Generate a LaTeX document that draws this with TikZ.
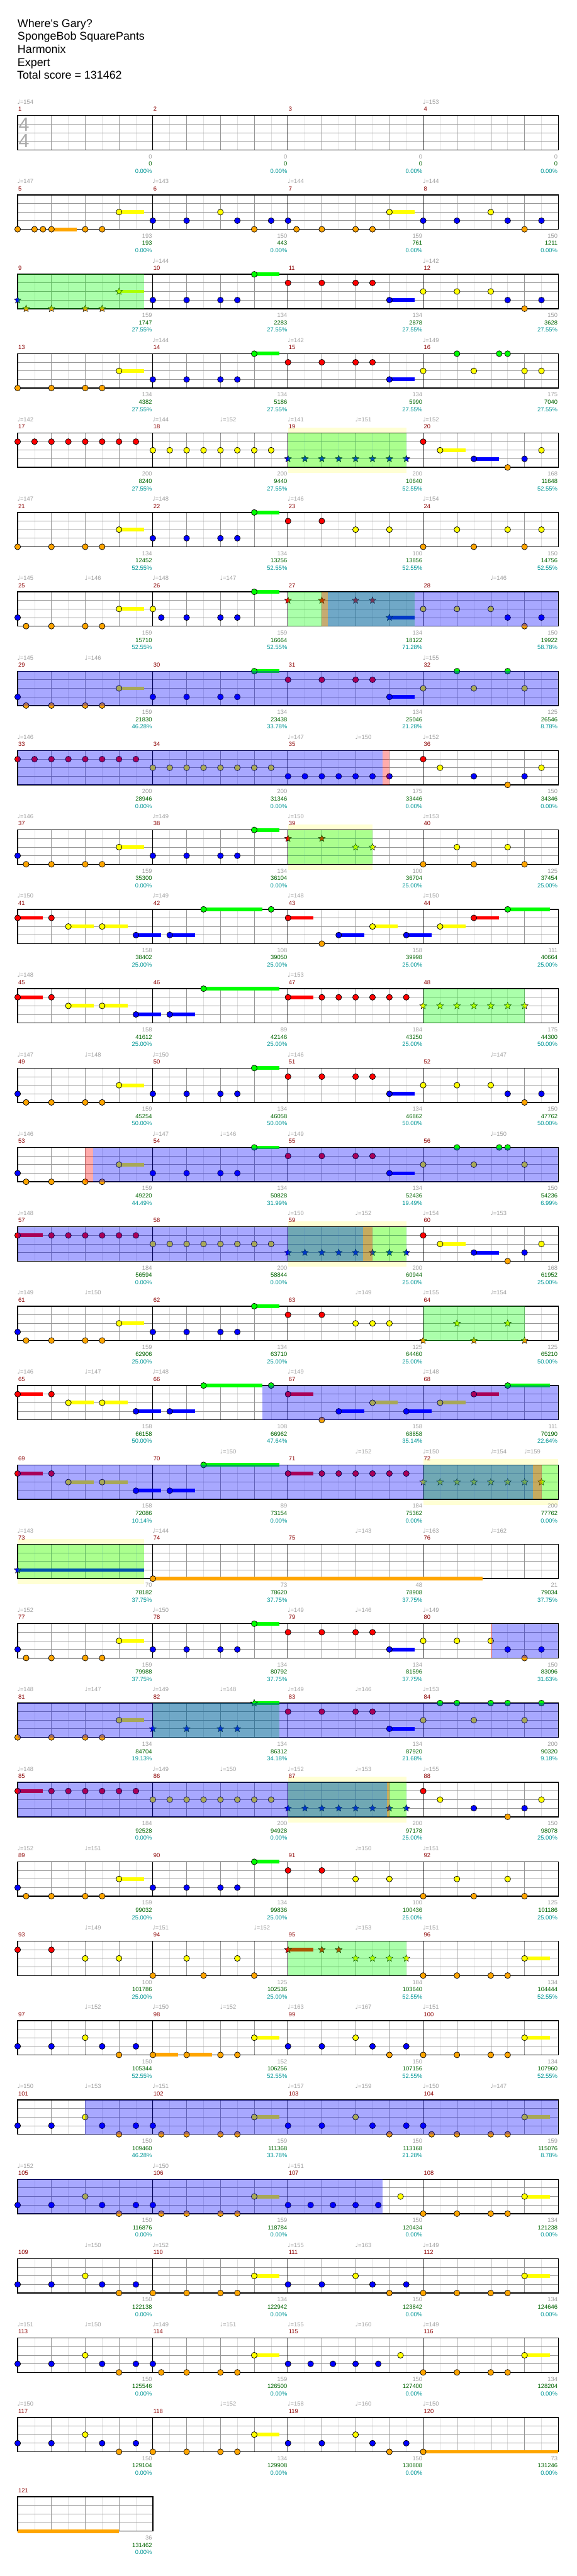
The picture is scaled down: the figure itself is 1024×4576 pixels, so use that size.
\documentclass[tikz,border=0pt]{standalone}
\usepackage{fontspec}
\setmainfont{Liberation Sans}
\newfontfamily\symf{DejaVu Sans}
\usetikzlibrary{shapes.geometric}

\definecolor{cG}{RGB}{0,255,0}
\definecolor{cR}{RGB}{255,0,0}
\definecolor{cY}{RGB}{255,255,0}
\definecolor{cB}{RGB}{0,0,255}
\definecolor{cO}{RGB}{255,165,0}
\definecolor{mnum}{RGB}{139,0,0}
\definecolor{sgray}{RGB}{160,160,160}
\definecolor{sgreen}{RGB}{0,100,0}
\definecolor{steal}{RGB}{0,150,150}
\definecolor{paleyel}{RGB}{255,255,212}
\definecolor{gridlt}{RGB}{222,222,222}
\definecolor{gridmd}{RGB}{150,150,150}

% lane offsets from the staff top
\def\lnG{0}\def\lnR{15.25}\def\lnY{30.5}\def\lnB{45.75}\def\lnO{61}

% row, staff and text
\newcommand\rowat[1]{\def\rk{#1}\pgfmathsetmacro\rT{205.3+141*(#1-1)}}
\newcommand\staffgrid[1]{%
  \pgfmathtruncatemacro\nE{8*#1}\pgfmathtruncatemacro\nB{4*#1}%
  \foreach \i in {1,...,\nE} \draw[eighth] ({31.35+30*\i},\rT) -- ++(0,61);
  \foreach \l in {15.25,30.5,45.75} \draw[lane] (31.35,{\rT+\l}) -- ++({240*#1},0);
  \foreach \i in {1,...,\nB} \draw[beat] ({31.35+60*\i},\rT) -- ++(0,61);
  \foreach \i in {1,...,#1} {
    \draw[bar] ({31.35+240*\i},\rT) -- ++(0,61);
    \pgfmathtruncatemacro\mn{4*(\rk-1)+\i}
    \node[measnum] at ({32.35+240*(\i-1)},{\rT-7.6}) {\mn};
  }
  \draw[border] (31.35,\rT) rectangle ++({240*#1},61);
}
\newcommand\tempos[1]{\foreach \b/\v in {#1}
  \node[tempo] at ({30.6+60*\b},{\rT-20.3}) {{\symf ♩}=\v};}
\newcommand\scores[1]{\foreach \g/\c/\p [count=\i] in {#1} {
  \node[score, sgray] at ({30.05+240*\i},{\rT+76.4}) {\g};
  \node[score, sgreen] at ({30.05+240*\i},{\rT+89.4}) {\c};
  \node[score, steal] at ({30.05+240*\i},{\rT+102.4}) {\p\%};}}

% notes, tails and stars
\newcommand\nhead[2]{\filldraw[headline, fill=c#1] ({31.35+60*#2},{\rT+\csname ln#1\endcsname}) circle[radius=5.2];}
\newcommand\nheads[2]{\foreach \b in {#2} {\nhead{#1}{\b}}}
\newcommand\ntail[3]{\fill[c#1] ({31.35+60*#2},{\rT+\csname ln#1\endcsname-3.3}) rectangle ({31.35+60*#3},{\rT+\csname ln#1\endcsname+3.3});}
\newcommand\nsus[3]{\ntail{#1}{#2}{#3}\nhead{#1}{#2}}
\newcommand\nstar[2]{\node[starnote, fill=c#1] at ({31.35+60*#2},{\rT+\csname ln#1\endcsname}) {};}
\newcommand\nstars[2]{\foreach \b in {#2} {\nstar{#1}{\b}}}
\newcommand\nsstar[3]{\ntail{#1}{#2}{#3}\nstar{#1}{#2}}

% shaded zones
\newcommand\wzone[2]{\fill[paleyel] ({31.35+60*#1},{\rT-10}) rectangle ({31.35+60*#2},{\rT+71});}
\newcommand\spzone[2]{\fill[cG, fill opacity=0.33] ({31.35+60*#1},\rT) rectangle ({31.35+60*#2},{\rT+61});}
\newcommand\rdzone[2]{\fill[cR, fill opacity=0.33] ({31.35+60*#1},\rT) rectangle ({31.35+60*#2},{\rT+61});}
\newcommand\odzone[2]{\fill[cB, fill opacity=0.34] ({31.35+60*#1},\rT) rectangle ({31.35+60*#2},{\rT+61});}

\begin{document}
\begin{tikzpicture}[x=1pt, y=-1pt,
    eighth/.style={draw=gridlt, line width=0.8pt},
    lane/.style={draw=gridmd, line width=1pt},
    beat/.style={draw=gridmd, line width=1pt},
    bar/.style={draw=black, line width=0.9pt},
    border/.style={draw=black, line width=1.6pt},
    headline/.style={draw=black, line width=0.8pt},
    starnote/.style={star, star points=5, star point ratio=2.3, minimum size=13pt, inner sep=0pt, draw=black, line width=0.5pt},
    title/.style={anchor=base west, inner sep=0pt, font=\fontsize{20}{24}\selectfont},
    measnum/.style={anchor=base west, inner sep=0pt, text=mnum, font=\fontsize{10.5}{12}\selectfont},
    tempo/.style={anchor=base west, inner sep=0pt, text=sgray, font=\fontsize{10.5}{12}\selectfont},
    score/.style={anchor=base east, inner sep=0pt, font=\fontsize{10.5}{12}\selectfont},
    timesig/.style={anchor=base west, inner sep=0pt, text={rgb,255:red,170;green,170;blue,170}, font=\fontsize{34}{34}\selectfont}]

\fill[white] (0,0) rectangle (1024,4576);
\useasboundingbox (0,0) rectangle (1024,4576);

% header
\node[title] (song) at (31,48.3) {Where\textquotesingle s Gary?};
\node[title] (artist) at (31,71.5) {SpongeBob SquarePants};
\node[title] (charter) at (31,94.5) {Harmonix};
\node[title] (level) at (31,117.5) {Expert};
\node[title] (total) at (30,140.5) {Total score = 131462};

% row 1
\rowat{1}
\staffgrid{4}
\node[timesig] (tsup) at (33,232.7) {4};
\node[timesig] (tsdown) at (33,262.3) {4};
\tempos{0/154,12/153}
\scores{0/0/0.00,0/0/0.00,0/0/0.00,0/0/0.00}

% row 2
\rowat{2}
\staffgrid{4}
\tempos{0/147,4/143,8/144,12/144}
\scores{193/193/0.00,150/443/0.00,159/761/0.00,150/1211/0.00}
\nsus{O}{1}{1.74}\nsus{Y}{3}{3.75}\nsus{Y}{11}{11.75}
\nheads{O}{0,0.5,0.75,2,2.5,7,8.25,9,10,10.5,15}
\nheads{Y}{6,14}
\nheads{B}{4,5,6.5,7.5,8,12,13,14.5,15.5}

% row 3
\rowat{3}
\staffgrid{4}
\tempos{4/144,12/142}
\scores{159/1747/27.55,134/2283/27.55,134/2878/27.55,150/3628/27.55}
\nstars{B}{0}\nstars{O}{0.25,1,2,2.5}\nsstar{Y}{3}{3.75}
\nsus{G}{7}{7.75}
\nheads{R}{8,9,10,10.5}
\nheads{Y}{12,13,14}
\nheads{B}{4,5,6,6.5,14.5,15.5}\nsus{B}{11}{11.75}
\nheads{O}{15}
\spzone{0}{3.75}

% row 4
\rowat{4}
\staffgrid{4}
\tempos{4/144,8/142,12/149}
\scores{134/4382/27.55,134/5186/27.55,134/5990/27.55,175/7040/27.55}
\nheads{O}{0,1,2,2.5}\nsus{Y}{3}{3.75}\nheads{B}{4,5,6,6.5}\nsus{G}{7}{7.75}
\nheads{R}{8,9,10,10.5}\nsus{B}{11}{11.75}\nheads{Y}{12,13.5,15,15.5}\nheads{G}{13,14.25,14.5}

% row 5
\rowat{5}
\wzone{8}{11.5}
\staffgrid{4}
\tempos{0/142,4/144,6/152,8/141,10/151,12/152}
\scores{200/8240/27.55,200/9440/27.55,200/10640/52.55,168/11648/52.55}
\nheads{R}{0,0.5,...,3.5}\nheads{Y}{4,4.5,...,7.5}\nstars{B}{8,8.5,...,11.5}
\nheads{R}{12}\nsus{Y}{12.5}{13.25}\nsus{B}{13.5}{14.25}\nheads{O}{14.5}\nheads{B}{15}\nheads{Y}{15.5}
\spzone{8}{11.5}

% row 6
\rowat{6}
\staffgrid{4}
\tempos{0/147,4/148,8/146,12/154}
\scores{134/12452/52.55,134/13256/52.55,100/13856/52.55,150/14756/52.55}
\nheads{O}{0,1,2,2.5,12,13.5,15}\nsus{Y}{3}{3.75}\nheads{Y}{10,11,13,14.5,15.5}
\nheads{B}{4,5,6,6.5}\nsus{G}{7}{7.75}\nheads{R}{8,9}

% row 7
\rowat{7}
\staffgrid{4}
\tempos{0/145,2/146,4/148,6/147,14/146}
\scores{159/15710/52.55,159/16664/52.55,134/18122/71.28,150/19922/58.78}
\nheads{B}{0,4.25,5,6,6.5,14.5,15.5}\nheads{O}{0.25,1,2,2.5,15}\nsus{Y}{3}{3.75}\nheads{Y}{4,12,13,14}
\nsus{G}{7}{7.75}\nstars{R}{8,9,10,10.5}\nsstar{B}{11}{11.75}
\spzone{8}{11.75}\rdzone{9}{9.17}\odzone{9.17}{16}

% row 8
\rowat{8}
\staffgrid{4}
\tempos{0/145,2/146,12/155}
\scores{159/21830/46.28,134/23438/33.78,134/25046/21.28,125/26546/8.78}
\nheads{B}{0,4,5,6,6.5}\nsus{B}{11}{11.75}\nheads{O}{0.25,1,2,2.5}\nsus{Y}{3}{3.75}\nheads{Y}{12,13.5,15}
\nsus{G}{7}{7.75}\nheads{G}{13,14.5}\nheads{R}{8,9,10,10.5}
\odzone{0}{16}

% row 9
\rowat{9}
\staffgrid{4}
\tempos{0/146,8/147,10/150,12/152}
\scores{200/28946/0.00,200/31346/0.00,175/33446/0.00,150/34346/0.00}
\nheads{R}{0,0.5,...,3.5}\nheads{R}{12}\nheads{Y}{4,4.5,...,7.5}\nheads{Y}{12.5,15.5}
\nheads{B}{8,8.5,...,11}\nheads{B}{13.5,15}\nheads{O}{14.5}
\odzone{0}{10.8}\rdzone{10.8}{11}

% row 10
\rowat{10}
\wzone{8}{10.5}
\staffgrid{4}
\tempos{0/146,4/149,8/150,12/153}
\scores{159/35300/0.00,134/36104/0.00,100/36704/25.00,125/37454/25.00}
\nheads{B}{0,4,5,6,6.5}\nheads{O}{0.25,1,2,2.5,12,13.5,15}\nsus{Y}{3}{3.75}\nsus{G}{7}{7.75}
\nstars{R}{8,9}\nstars{Y}{10,10.5}\nheads{Y}{13,14.5}
\spzone{8}{10.5}

% row 11
\rowat{11}
\staffgrid{4}
\tempos{0/150,4/149,8/148,12/150}
\scores{158/38402/25.00,108/39050/25.00,158/39998/25.00,111/40664/25.00}
\nsus{R}{0}{0.75}\nheads{R}{1}\nsus{Y}{1.5}{2.25}\nsus{Y}{2.5}{3.25}\nsus{B}{3.5}{4.25}\nsus{B}{4.5}{5.25}
\nsus{G}{5.5}{7.25}\nheads{G}{7.5}
\nsus{R}{8}{8.75}\nheads{O}{9}\nsus{B}{9.5}{10.25}\nsus{Y}{10.5}{11.25}\nsus{B}{11.5}{12.25}
\nsus{Y}{12.5}{13.25}\nsus{R}{13.5}{14.25}\nsus{G}{14.5}{15.75}

% row 12
\rowat{12}
\staffgrid{4}
\tempos{0/148,8/153}
\scores{158/41612/25.00,89/42146/25.00,184/43250/25.00,175/44300/50.00}
\nsus{R}{0}{0.75}\nheads{R}{1}\nsus{Y}{1.5}{2.25}\nsus{Y}{2.5}{3.25}\nsus{B}{3.5}{4.25}\nsus{B}{4.5}{5.25}
\nsus{G}{5.5}{7.75}
\nsus{R}{8}{8.75}\nheads{R}{9,9.5,...,11.5}\nstars{Y}{12,12.5,...,15}
\spzone{12}{15}

% row 13
\rowat{13}
\staffgrid{4}
\tempos{0/147,2/148,4/150,8/146,14/147}
\scores{159/45254/50.00,134/46058/50.00,134/46862/50.00,150/47762/50.00}
\nheads{B}{0,4,5,6,6.5,14.5,15.5}\nheads{O}{0.25,1,2,2.5,15}\nsus{Y}{3}{3.75}\nsus{G}{7}{7.75}
\nheads{R}{8,9,10,10.5}\nsus{B}{11}{11.75}\nheads{Y}{12,13,14}

% row 14
\rowat{14}
\staffgrid{4}
\tempos{0/146,4/147,6/146,8/149,14/150}
\scores{159/49220/44.49,134/50828/31.99,134/52436/19.49,150/54236/6.99}
\nheads{B}{0,4,5,6,6.5}\nheads{O}{0.25,1,2,2.5}\nsus{Y}{3}{3.75}\nsus{G}{7}{7.75}
\nheads{R}{8,9,10,10.5}\nsus{B}{11}{11.75}\nheads{Y}{12,13.5,15}\nheads{G}{13,14.25,14.5}
\rdzone{2}{2.23}\odzone{2.23}{16}

% row 15
\rowat{15}
\wzone{8}{11.5}
\staffgrid{4}
\tempos{0/148,8/150,10/152,12/154,14/153}
\scores{184/56594/0.00,200/58844/0.00,200/60944/25.00,168/61952/25.00}
\nsus{R}{0}{0.75}\nheads{R}{1,1.5,...,3.5}\nheads{Y}{4,4.5,...,7.5}\nstars{B}{8,8.5,...,11.5}
\nheads{R}{12}\nsus{Y}{12.5}{13.25}\nsus{B}{13.5}{14.25}\nheads{O}{14.5}\nheads{B}{15}\nheads{Y}{15.5}
\spzone{8}{11.5}\rdzone{10.23}{10.5}\odzone{0}{10.23}

% row 16
\rowat{16}
\staffgrid{4}
\tempos{0/149,2/150,10/149,12/155,14/154}
\scores{159/62906/25.00,134/63710/25.00,125/64460/25.00,125/65210/50.00}
\nheads{B}{0,4,5,6,6.5}\nheads{O}{0.25,1,2,2.5}\nsus{Y}{3}{3.75}\nsus{G}{7}{7.75}
\nheads{R}{8,9}\nheads{Y}{10,10.5,11}\nstars{O}{12,13.5,15}\nstars{Y}{13,14.5}
\spzone{12}{15}

% row 17
\rowat{17}
\staffgrid{4}
\tempos{0/146,2/147,4/148,8/149,12/148}
\scores{158/66158/50.00,108/66962/47.64,158/68858/35.14,111/70190/22.64}
\nsus{R}{0}{0.75}\nheads{R}{1}\nsus{Y}{1.5}{2.25}\nsus{Y}{2.5}{3.25}\nsus{B}{3.5}{4.25}\nsus{B}{4.5}{5.25}
\nsus{G}{5.5}{7.25}\nheads{G}{7.5}
\nsus{R}{8}{8.75}\nheads{O}{9}\nsus{B}{9.5}{10.25}\nsus{Y}{10.5}{11.25}\nsus{B}{11.5}{12.25}
\nsus{Y}{12.5}{13.25}\nsus{R}{13.5}{14.25}\nsus{G}{14.5}{15.75}
\odzone{7.25}{16}

% row 18
\rowat{18}
\wzone{12}{16}
\staffgrid{4}
\tempos{6/150,10/152,12/150,14/154,15/159}
\scores{158/72086/10.14,89/73154/0.00,184/75362/0.00,200/77762/0.00}
\nsus{R}{0}{0.75}\nheads{R}{1}\nsus{Y}{1.5}{2.25}\nsus{Y}{2.5}{3.25}\nsus{B}{3.5}{4.25}\nsus{B}{4.5}{5.25}
\nsus{G}{5.5}{7.75}
\nsus{R}{8}{8.75}\nheads{R}{9,9.5,...,11.5}\nstars{Y}{12,12.5,...,15.5}
\spzone{12}{16}\rdzone{15.25}{15.5}\odzone{0}{15.25}

% row 19
\rowat{19}
\wzone{0}{3.75}
\staffgrid{4}
\tempos{0/143,4/144,10/143,12/163,14/162}
\scores{70/78182/37.75,73/78620/37.75,48/78908/37.75,21/79034/37.75}
\nsstar{B}{0}{3.75}\nsus{O}{4}{13.75}
\spzone{0}{3.75}

% row 20
\rowat{20}
\staffgrid{4}
\tempos{0/152,4/150,8/149,10/146,12/149}
\scores{159/79988/37.75,134/80792/37.75,134/81596/37.75,150/83096/31.63}
\nheads{B}{0,4,5,6,6.5,14.5,15.5}\nheads{O}{0.25,1,2,2.5,15}\nsus{Y}{3}{3.75}\nsus{G}{7}{7.75}
\nheads{R}{8,9,10,10.5}\nsus{B}{11}{11.75}\nheads{Y}{12,13,14}
\rdzone{14}{14.03}\odzone{14.03}{16}

% row 21
\rowat{21}
\staffgrid{4}
\tempos{0/148,2/147,4/149,6/148,8/149,10/146,12/153}
\scores{134/84704/19.13,134/86312/34.18,134/87920/21.68,200/90320/9.18}
\nheads{O}{0,1,2,2.5}\nsus{Y}{3}{3.75}\nstars{B}{4,5,6,6.5}\nsstar{G}{7}{7.75}
\nheads{R}{8,9,10,10.5}\nsus{B}{11}{11.75}\nheads{Y}{12,13.5,15}\nheads{G}{12.5,13,14,14.5,15.5}
\spzone{4}{7.75}\odzone{0}{16}

% row 22
\rowat{22}
\wzone{8}{11.5}
\staffgrid{4}
\tempos{0/148,4/149,6/150,8/152,10/153,12/155}
\scores{184/92528/0.00,200/94928/0.00,200/97178/25.00,150/98078/25.00}
\nsus{R}{0}{0.75}\nheads{R}{1,1.5,...,3.5}\nheads{Y}{4,4.5,...,7.5}\nstars{B}{8,8.5,...,11.5}
\nheads{R}{12}\nheads{Y}{12.5,15.5}\nheads{B}{13.5,15}\nheads{O}{14.5}
\spzone{8}{11.5}\rdzone{10.93}{11}\odzone{0}{10.93}

% row 23
\rowat{23}
\staffgrid{4}
\tempos{0/152,2/151,10/150,12/151}
\scores{159/99032/25.00,134/99836/25.00,100/100436/25.00,125/101186/25.00}
\nheads{B}{0,4,5,6,6.5}\nheads{O}{0.25,1,2,2.5,12,13.5,15}\nsus{Y}{3}{3.75}\nsus{G}{7}{7.75}
\nheads{R}{8,9}\nheads{Y}{10,11,13,14.5}

% row 24
\rowat{24}
\staffgrid{4}
\tempos{2/149,4/151,7/152,10/153,12/151}
\scores{100/101786/25.00,125/102536/25.00,184/103640/52.55,134/104444/52.55}
\nheads{R}{0,1}\nheads{Y}{2,3,5,6.5}\nheads{O}{4,5.5,7,12,13,14,14.5}
\nsstar{R}{8}{8.75}\nstars{R}{9,9.5}\nstars{Y}{10,10.5,11,11.5}\nsus{Y}{15}{15.75}
\spzone{8}{11.5}

% row 25
\rowat{25}
\staffgrid{4}
\tempos{2/152,4/150,6/152,8/163,10/167,12/151}
\scores{150/105344/52.55,152/106256/52.55,150/107156/52.55,134/107960/52.55}
\nheads{B}{0,1,2.5,3.5,8,9,10.5,11.5}\nheads{Y}{2,10}\nheads{O}{3,6,6.5,11,12,13,14,14.5}
\nsus{O}{4}{4.75}\nsus{O}{5}{5.75}\nsus{Y}{7}{7.75}\nsus{Y}{15}{15.75}

% row 26
\rowat{26}
\staffgrid{4}
\tempos{0/150,2/153,4/151,8/157,10/159,12/150,14/147}
\scores{150/109460/46.28,159/111368/33.78,150/113168/21.28,159/115076/8.78}
\nheads{B}{0,1,2.5,3.5,4,8,9,10.5,11.5,12}\nheads{Y}{2,10}\nheads{O}{3,4.25,5,6,6.5,11,12.25,13,14,14.5}
\nsus{Y}{7}{7.75}\nsus{Y}{15}{15.75}
\odzone{2}{16}

% row 27
\rowat{27}
\staffgrid{4}
\tempos{0/152,4/150,8/151}
\scores{150/116876/0.00,159/118784/0.00,150/120434/0.00,134/121238/0.00}
\nheads{B}{0,1,2.5,3.5,4,8,8.67,9.33,10,10.67}\nheads{Y}{2,11.33}\nheads{O}{3,4.25,5,6,6.5,12,13,14,14.5}
\nsus{Y}{7}{7.75}\nsus{Y}{15}{15.75}
\odzone{0}{10.8}

% row 28
\rowat{28}
\staffgrid{4}
\tempos{2/150,4/152,8/155,10/163,12/149}
\scores{150/122138/0.00,134/122942/0.00,150/123842/0.00,134/124646/0.00}
\nheads{B}{0,1,2.5,3.5,8,9,10.5,11.5}\nheads{Y}{2,10}\nheads{O}{3,4,5,6,6.5,11,12,13,14,14.5}
\nsus{Y}{7}{7.75}\nsus{Y}{15}{15.75}

% row 29
\rowat{29}
\staffgrid{4}
\tempos{0/151,2/150,4/149,6/151,8/155,10/160,12/149}
\scores{150/125546/0.00,159/126500/0.00,150/127400/0.00,134/128204/0.00}
\nheads{B}{0,1,2.5,3.5,4,8,8.67,9.33,10,10.67}\nheads{Y}{2,11.33}\nheads{O}{3,4.25,5,6,6.5,12,13,14,14.5}
\nsus{Y}{7}{7.75}\nsus{Y}{15}{15.75}

% row 30
\rowat{30}
\staffgrid{4}
\tempos{0/150,6/152,8/158,10/160,12/150}
\scores{150/129104/0.00,134/129908/0.00,150/130808/0.00,73/131246/0.00}
\nheads{B}{0,1,2.5,3.5,8,9,10.5,11.5}\nheads{Y}{2,10}\nheads{O}{3,4,5,6,6.5,11}
\nsus{Y}{7}{7.75}\nsus{O}{12}{16}

% row 31
\rowat{31}
\staffgrid{1}
\scores{36/131462/0.00}
\ntail{O}{0}{3}

\end{tikzpicture}
\end{document}
